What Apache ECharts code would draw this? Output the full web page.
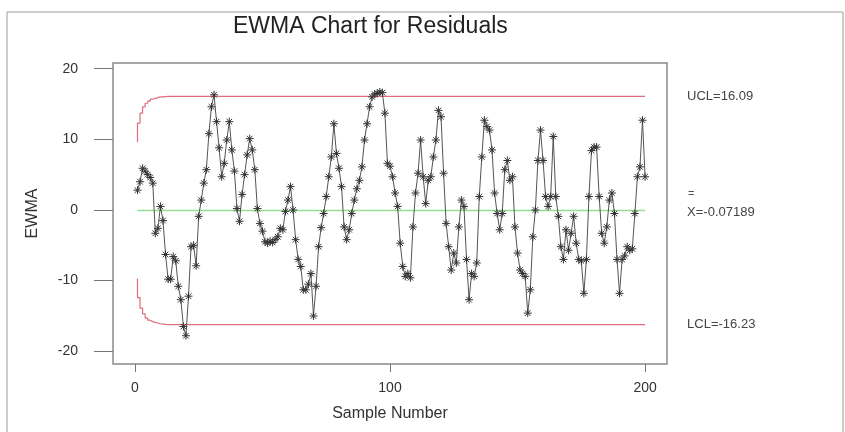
<!DOCTYPE html>
<html>
<head>
<meta charset="utf-8">
<script src="https://cdn.jsdelivr.net/npm/echarts@6/dist/echarts.min.js"></script>
<style>
html,body{margin:0;padding:0;background:#fff;}
#chart{width:845px;height:432px;}
</style>
</head>
<body>
<div id="chart"></div>
<script>
// EWMA statistic for samples 1..200
var ewmaValues = [
  2.8, 4.0, 5.9, 5.5, 5.0, 4.6, 3.8, -3.3, -2.6, 0.5,
  -1.5, -6.3, -9.8, -9.8, -6.6, -7.2, -10.8, -12.7, -16.5, -17.8,
  -12.2, -5.2, -5.0, -7.9, -0.9, 1.4, 3.8, 5.7, 10.8, 14.6,
  16.3, 12.5, 8.8, 4.7, 6.6, 9.9, 12.5, 8.5, 5.5, 0.2,
  -1.6, 2.2, 5.0, 7.8, 10.1, 8.5, 5.7, 0.2, -1.9, -3.0,
  -4.5, -4.7, -4.4, -4.6, -4.2, -3.8, -2.6, -2.8, -0.2, 1.4,
  3.3, 0.0, -4.2, -7.0, -8.0, -11.3, -11.3, -10.5, -9.0, -15.0,
  -10.8, -5.2, -2.5, -0.5, 1.9, 4.7, 7.5, 12.2, 8.0, 5.9,
  3.3, -2.4, -4.2, -2.8, -0.5, 1.4, 3.0, 4.2, 6.1, 9.9,
  12.2, 14.6, 16.0, 16.4, 16.5, 16.7, 16.6, 13.7, 6.6, 6.2,
  4.7, 2.4, 0.5, -4.7, -8.0, -9.4, -9.0, -9.6, -2.4, 2.4,
  5.2, 9.9, 4.7, 0.9, 4.2, 4.7, 7.5, 9.9, 14.1, 13.2,
  5.2, -1.9, -5.2, -8.5, -6.1, -7.5, -2.4, 1.4, 0.5, -7.0,
  -12.7, -9.0, -9.4, -7.5, 1.9, 7.5, 12.7, 11.8, 11.3, 8.5,
  2.4, -0.5, -2.8, -0.5, 5.7, 7.0, 4.2, 4.7, -2.4, -6.1,
  -8.5, -9.0, -9.4, -14.6, -11.3, -3.8, 0.0, 7.0, 11.3, 7.0,
  1.9, 0.5, 1.9, 10.4, 1.9, -0.9, -5.2, -7.0, -2.8, -5.7,
  -3.3, -0.9, -4.7, -7.0, -7.2, -11.8, -7.0, 1.9, 8.4, 8.9,
  8.9, 1.9, -3.3, -4.7, -2.4, 1.4, 2.4, -0.5, -7.0, -11.8,
  -7.0, -6.5, -5.2, -5.7, -5.5, -0.5, 4.7, 6.1, 12.7, 4.7
];
// control limits: early (widening) values, then the steady value
var uclStart = [9.6, 12.3, 13.7, 14.6, 15.1, 15.4, 15.7, 15.8, 15.9, 16.0, 16.0, 16.05];
var lclStart = [-9.7, -12.4, -13.9, -14.7, -15.3, -15.6, -15.8, -15.9, -16.0, -16.1, -16.15, -16.2];
var uclSteady = 16.09;
var lclSteady = -16.23;
var centerValue = -0.07189;
var xTicks = [0, 100, 200];
var yTicks = [-20, -10, 0, 10, 20];

var ewmaData = [], uclData = [], lclData = [], centerData = [];
for (var i = 0; i < ewmaValues.length; i++) {
  var n = i + 1;
  ewmaData.push([n, ewmaValues[i]]);
  uclData.push([n, i < uclStart.length ? uclStart[i] : uclSteady]);
  lclData.push([n, i < lclStart.length ? lclStart[i] : lclSteady]);
  centerData.push([n, centerValue]);
}

var FONT = '"Liberation Sans", Arial, sans-serif';
var asterisk = 'path://M5,0L5,10M0,5L10,5M1.5,1.5L8.5,8.5M8.5,1.5L1.5,8.5';

var chart = echarts.init(document.getElementById('chart'), null, {renderer: 'canvas'});
chart.setOption({
  animation: false,
  backgroundColor: '#fff',
  textStyle: {fontFamily: FONT},
  title: {
    text: 'EWMA Chart for Residuals',
    left: 228, top: 10,
    textStyle: {fontFamily: FONT, fontSize: 23, fontWeight: 'normal', color: '#222'}
  },
  graphic: [
    {type: 'rect', silent: true, shape: {x: 7, y: 12, width: 836, height: 430},
     style: {fill: 'none', stroke: '#9a9a9a', lineWidth: 1}},
    {type: 'text', silent: true, left: 688, top: 188,
     style: {text: '=', fontSize: 11, fill: '#555', fontFamily: FONT}}
  ],
  grid: {left: 113, right: 178, top: 63, bottom: 68, show: true,
         borderColor: '#8a8a8a', borderWidth: 1.5, backgroundColor: 'transparent'},
  xAxis: {
    type: 'value', min: -8.6, max: 208.6,
    name: 'Sample Number', nameLocation: 'middle', nameGap: 42,
    nameTextStyle: {fontFamily: FONT, fontSize: 16, color: '#333'},
    axisLine: {show: false, onZero: false},
    axisTick: {show: true, length: 8, customValues: xTicks, lineStyle: {color: '#777'}},
    axisLabel: {customValues: xTicks, margin: 17, fontSize: 14, color: '#333', fontFamily: FONT},
    splitLine: {show: false}
  },
  yAxis: {
    type: 'value', min: -21.8, max: 20.8,
    name: 'EWMA', nameLocation: 'middle', nameRotate: 90, nameGap: 72,
    nameTextStyle: {fontFamily: FONT, fontSize: 16, color: '#333'},
    axisLine: {show: false, onZero: false},
    axisTick: {show: true, length: 19, customValues: yTicks, lineStyle: {color: '#777'}},
    axisLabel: {customValues: yTicks, margin: 35, fontSize: 14, color: '#333', fontFamily: FONT},
    splitLine: {show: false}
  },
  series: [
    {type: 'line', name: 'UCL', data: uclData, step: 'start', showSymbol: false, symbol: 'none',
     lineStyle: {color: '#e06d7a', width: 1.2}, silent: true,
     endLabel: {show: true, formatter: 'UCL=16.09', distance: 42, fontSize: 13, color: '#444', fontFamily: FONT}},
    {type: 'line', name: 'LCL', data: lclData, step: 'start', showSymbol: false, symbol: 'none',
     lineStyle: {color: '#e06d7a', width: 1.2}, silent: true,
     endLabel: {show: true, formatter: 'LCL=-16.23', distance: 42, fontSize: 13, color: '#444', fontFamily: FONT}},
    {type: 'line', name: 'Center', data: centerData, showSymbol: false, symbol: 'none',
     lineStyle: {color: '#92e092', width: 1.4}, silent: true,
     endLabel: {show: true, formatter: 'X=-0.07189', distance: 42, fontSize: 13, color: '#444', fontFamily: FONT,
                offset: [0, 2]}},
    {type: 'line', name: 'EWMA', data: ewmaData, symbol: asterisk, symbolSize: 8, showSymbol: true,
     lineStyle: {color: '#555', width: 1},
     itemStyle: {color: 'rgba(0,0,0,0)', borderColor: '#333', borderWidth: 1},
     emphasis: {disabled: true}, silent: true}
  ]
});
</script>
</body>
</html>
